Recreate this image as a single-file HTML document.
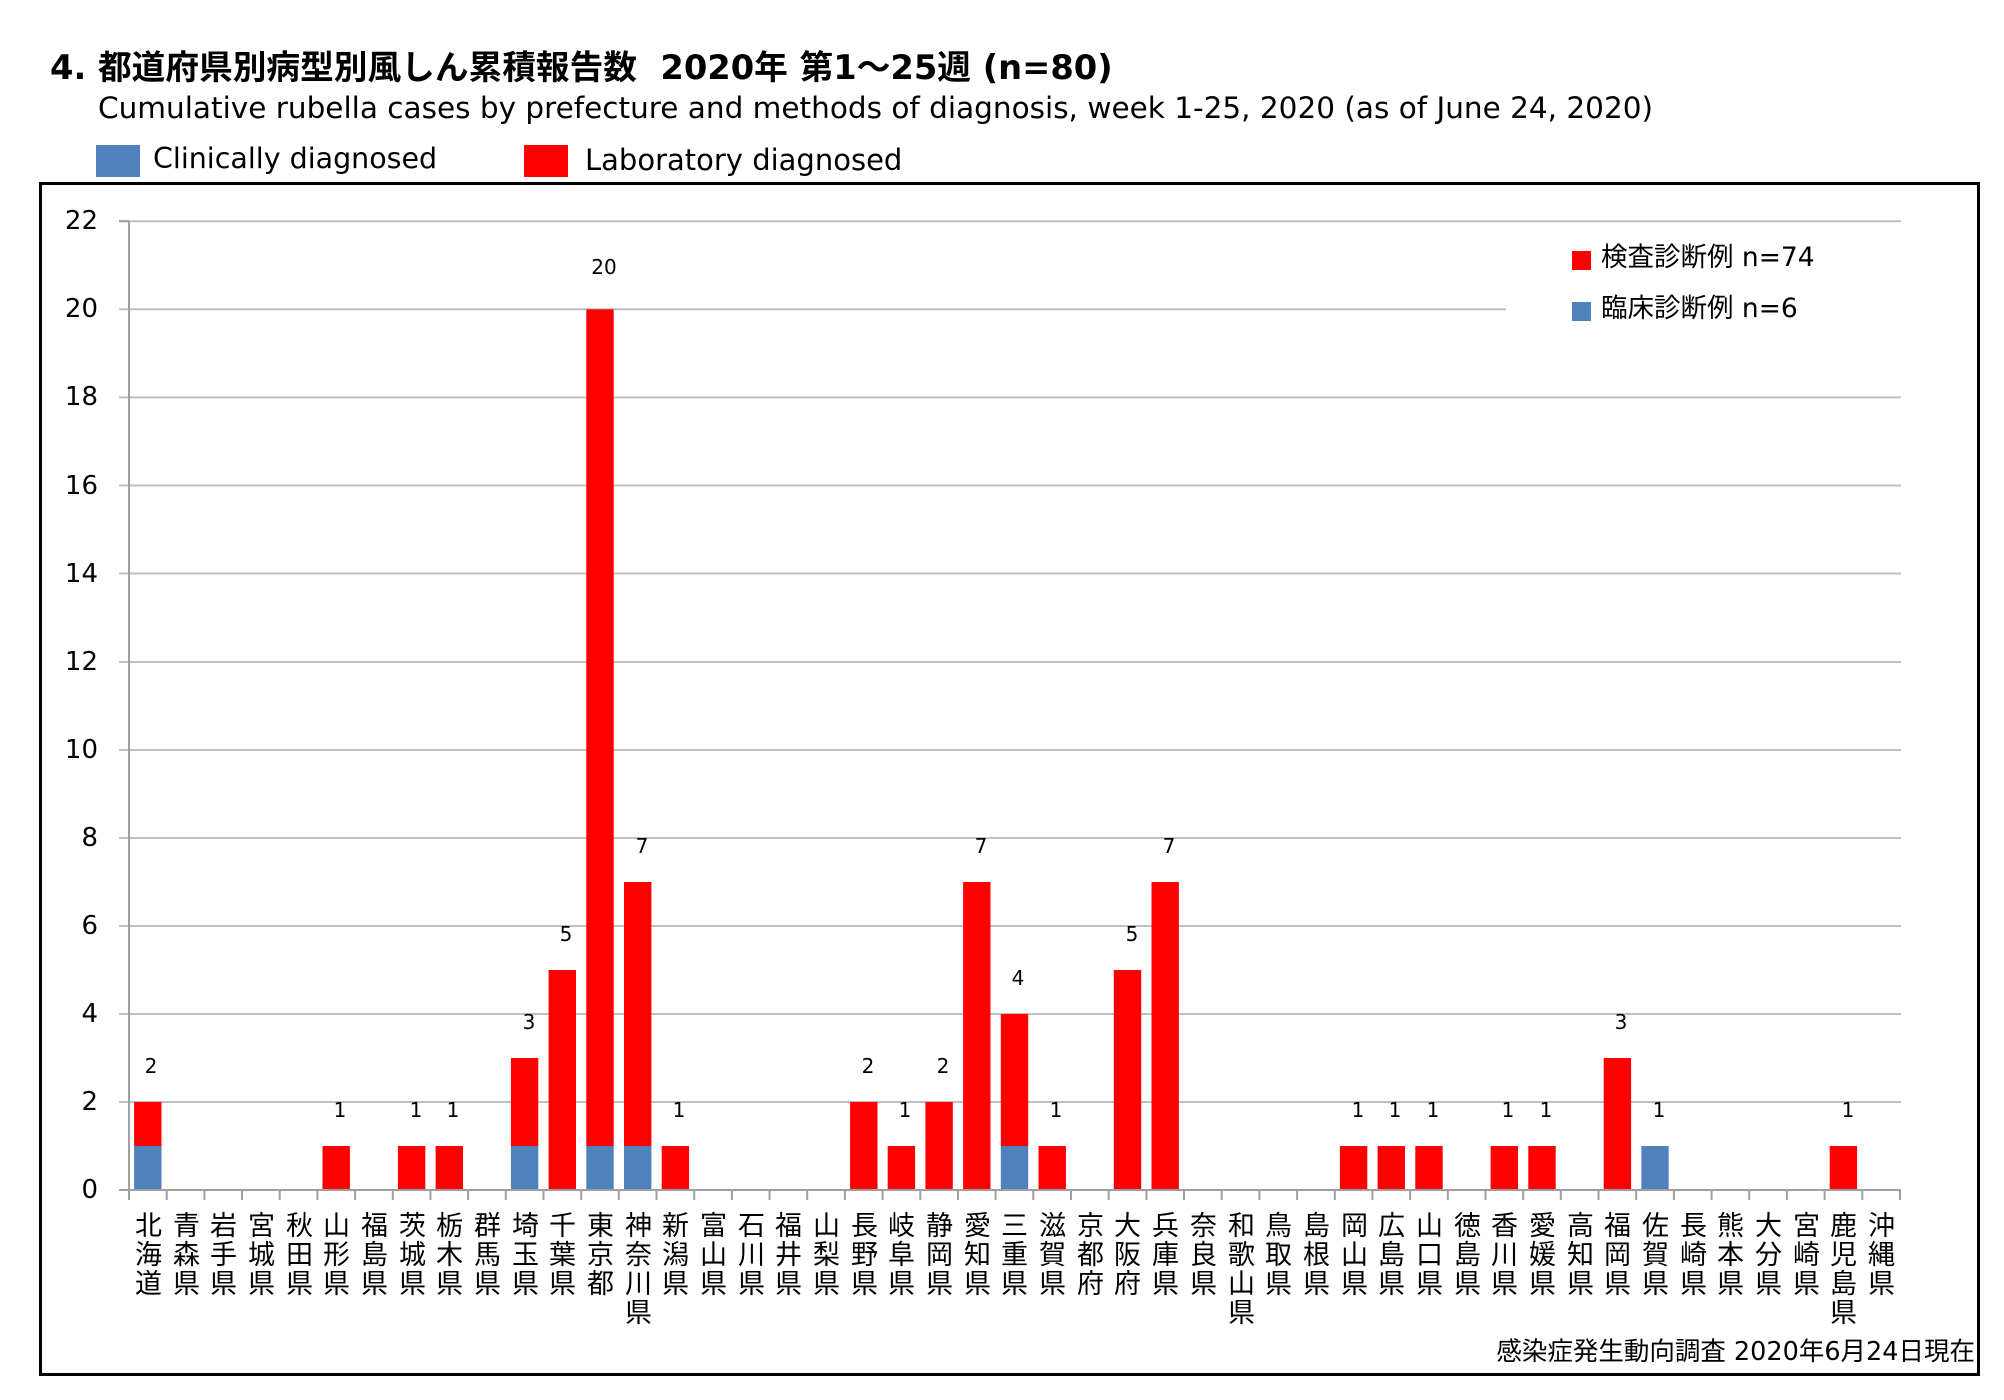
<!DOCTYPE html>
<html><head><meta charset="utf-8"><style>
body{margin:0;width:2004px;height:1400px;background:#fff;overflow:hidden;position:relative;font-family:"DejaVu Sans","Noto Sans CJK JP",sans-serif}
.t{position:absolute;white-space:nowrap;color:#000}
.xl{position:absolute;top:1211px;width:30px;writing-mode:vertical-rl;text-orientation:upright;font-size:27px;line-height:30px;letter-spacing:2px;font-family:"Noto Sans CJK JP","DejaVu Sans",sans-serif}
</style></head><body>
<div class="t" style="left:50px;top:40px;font-size:33.7px;font-weight:bold">4. 都道府県別病型別風しん累積報告数&nbsp; 2020年 第1～25週 (n=80)</div>
<div class="t" style="left:98px;top:91px;font-size:29.5px">Cumulative rubella cases by prefecture and methods of diagnosis, week 1-25, 2020 (as of June 24, 2020)</div>
<div style="position:absolute;left:96px;top:145px;width:44px;height:32px;background:#4f81bd"></div>
<div class="t" style="left:153px;top:142px;font-size:28.5px">Clinically diagnosed</div>
<div style="position:absolute;left:524px;top:145px;width:44px;height:32px;background:#ff0000"></div>
<div class="t" style="left:585px;top:143px;font-size:29px">Laboratory diagnosed</div>
<div style="position:absolute;left:39px;top:182px;width:1935px;height:1188px;border:3px solid #000"></div>
<svg style="position:absolute;left:0;top:0" width="2004" height="1400">
<g stroke="#c0c0c0" stroke-width="2">
<line x1="119" x2="1901" y1="1102" y2="1102"/><line x1="119" x2="1901" y1="1014" y2="1014"/>
<line x1="119" x2="1901" y1="926" y2="926"/><line x1="119" x2="1901" y1="838" y2="838"/>
<line x1="119" x2="1901" y1="750" y2="750"/><line x1="119" x2="1901" y1="662" y2="662"/>
<line x1="119" x2="1901" y1="573.5" y2="573.5"/><line x1="119" x2="1901" y1="485.5" y2="485.5"/>
<line x1="119" x2="1901" y1="397.4" y2="397.4"/><line x1="119" x2="1506" y1="309.3" y2="309.3"/>
<line x1="119" x2="1901" y1="221.2" y2="221.2"/>
</g>
<g fill="#ff0000">
<rect x="134.1" y="1102" width="27.4" height="44"/>
<rect x="322.5" y="1146" width="27.4" height="44"/>
<rect x="397.9" y="1146" width="27.4" height="44"/>
<rect x="435.6" y="1146" width="27.4" height="44"/>
<rect x="510.9" y="1058" width="27.4" height="88"/>
<rect x="548.6" y="970" width="27.4" height="220"/>
<rect x="586.3" y="309.3" width="27.4" height="836.7"/>
<rect x="624" y="882" width="27.4" height="264"/>
<rect x="661.7" y="1146" width="27.4" height="44"/>
<rect x="850.1" y="1102" width="27.4" height="88"/>
<rect x="887.7" y="1146" width="27.4" height="44"/>
<rect x="925.4" y="1102" width="27.4" height="88"/>
<rect x="963.1" y="882" width="27.4" height="308"/>
<rect x="1000.8" y="1014" width="27.4" height="132"/>
<rect x="1038.5" y="1146" width="27.4" height="44"/>
<rect x="1113.8" y="970" width="27.4" height="220"/>
<rect x="1151.5" y="882" width="27.4" height="308"/>
<rect x="1339.9" y="1146" width="27.4" height="44"/>
<rect x="1377.6" y="1146" width="27.4" height="44"/>
<rect x="1415.3" y="1146" width="27.4" height="44"/>
<rect x="1490.6" y="1146" width="27.4" height="44"/>
<rect x="1528.3" y="1146" width="27.4" height="44"/>
<rect x="1603.7" y="1058" width="27.4" height="132"/>
<rect x="1829.7" y="1146" width="27.4" height="44"/>
</g>
<g fill="#4f81bd">
<rect x="134.1" y="1146" width="27.4" height="44"/>
<rect x="510.9" y="1146" width="27.4" height="44"/>
<rect x="586.3" y="1146" width="27.4" height="44"/>
<rect x="624" y="1146" width="27.4" height="44"/>
<rect x="1000.8" y="1146" width="27.4" height="44"/>
<rect x="1641.3" y="1146" width="27.4" height="44"/>
</g>
<g stroke="#a0a0a0" stroke-width="2">
<line x1="129" x2="129" y1="221" y2="1200"/>
<line x1="119" x2="1901" y1="1190" y2="1190"/>
<line x1="119" x2="129" y1="221.2" y2="221.2"/>
<path d="M166.7 1190v10M204.4 1190v10M242 1190v10M279.7 1190v10M317.4 1190v10M355.1 1190v10M392.8 1190v10M430.4 1190v10M468.1 1190v10M505.8 1190v10M543.5 1190v10M581.2 1190v10M618.8 1190v10M656.5 1190v10M694.2 1190v10M731.9 1190v10M769.6 1190v10M807.2 1190v10M844.9 1190v10M882.6 1190v10M920.3 1190v10M958 1190v10M995.6 1190v10M1033.3 1190v10M1071 1190v10M1108.7 1190v10M1146.4 1190v10M1184 1190v10M1221.7 1190v10M1259.4 1190v10M1297.1 1190v10M1334.8 1190v10M1372.4 1190v10M1410.1 1190v10M1447.8 1190v10M1485.5 1190v10M1523.2 1190v10M1560.8 1190v10M1598.5 1190v10M1636.2 1190v10M1673.9 1190v10M1711.6 1190v10M1749.2 1190v10M1786.9 1190v10M1824.6 1190v10M1862.3 1190v10M1900 1190v10"/>
</g>
<g font-size="26" text-anchor="end" font-family="DejaVu Sans, sans-serif">
<text x="98" y="1198">0</text><text x="98" y="1110">2</text><text x="98" y="1022">4</text>
<text x="98" y="934">6</text><text x="98" y="846">8</text><text x="98" y="758">10</text>
<text x="98" y="670">12</text><text x="98" y="582">14</text><text x="98" y="494">16</text>
<text x="98" y="405">18</text><text x="98" y="317">20</text><text x="98" y="229">22</text>
</g>
<g font-size="20" text-anchor="middle" font-family="DejaVu Sans, sans-serif">
<text x="151" y="1073">2</text><text x="340" y="1117">1</text><text x="416" y="1117">1</text>
<text x="453" y="1117">1</text><text x="529" y="1029">3</text><text x="566" y="941">5</text>
<text x="604" y="274">20</text><text x="642" y="853">7</text><text x="679" y="1117">1</text>
<text x="868" y="1073">2</text><text x="905" y="1117">1</text><text x="943" y="1073">2</text>
<text x="981" y="853">7</text><text x="1018" y="985">4</text><text x="1056" y="1117">1</text>
<text x="1132" y="941">5</text><text x="1169" y="853">7</text><text x="1358" y="1117">1</text>
<text x="1395" y="1117">1</text><text x="1433" y="1117">1</text><text x="1508" y="1117">1</text>
<text x="1546" y="1117">1</text><text x="1621" y="1029">3</text><text x="1659" y="1117">1</text>
<text x="1848" y="1117">1</text>
</g>
<rect x="1572" y="251" width="19" height="19" fill="#ff0000"/>
<rect x="1572" y="302" width="19" height="19" fill="#4f81bd"/>
<g font-size="26.5" font-family="DejaVu Sans, Noto Sans CJK JP, sans-serif">
<text x="1601" y="266">検査診断例 n=74</text>
<text x="1601" y="317">臨床診断例 n=6</text>
</g>
<text x="1975" y="1360" font-size="25.5" text-anchor="end" font-family="DejaVu Sans, Noto Sans CJK JP, sans-serif">感染症発生動向調査 2020年6月24日現在</text>
</svg>
<div class="xl" style="left:133px">北海道</div><div class="xl" style="left:171px">青森県</div>
<div class="xl" style="left:208px">岩手県</div><div class="xl" style="left:246px">宮城県</div>
<div class="xl" style="left:284px">秋田県</div><div class="xl" style="left:321px">山形県</div>
<div class="xl" style="left:359px">福島県</div><div class="xl" style="left:397px">茨城県</div>
<div class="xl" style="left:434px">栃木県</div><div class="xl" style="left:472px">群馬県</div>
<div class="xl" style="left:510px">埼玉県</div><div class="xl" style="left:547px">千葉県</div>
<div class="xl" style="left:585px">東京都</div><div class="xl" style="left:623px">神奈川県</div>
<div class="xl" style="left:660px">新潟県</div><div class="xl" style="left:698px">富山県</div>
<div class="xl" style="left:736px">石川県</div><div class="xl" style="left:773px">福井県</div>
<div class="xl" style="left:811px">山梨県</div><div class="xl" style="left:849px">長野県</div>
<div class="xl" style="left:886px">岐阜県</div><div class="xl" style="left:924px">静岡県</div>
<div class="xl" style="left:962px">愛知県</div><div class="xl" style="left:999px">三重県</div>
<div class="xl" style="left:1037px">滋賀県</div><div class="xl" style="left:1075px">京都府</div>
<div class="xl" style="left:1112px">大阪府</div><div class="xl" style="left:1150px">兵庫県</div>
<div class="xl" style="left:1188px">奈良県</div><div class="xl" style="left:1226px">和歌山県</div>
<div class="xl" style="left:1263px">鳥取県</div><div class="xl" style="left:1301px">島根県</div>
<div class="xl" style="left:1339px">岡山県</div><div class="xl" style="left:1376px">広島県</div>
<div class="xl" style="left:1414px">山口県</div><div class="xl" style="left:1452px">徳島県</div>
<div class="xl" style="left:1489px">香川県</div><div class="xl" style="left:1527px">愛媛県</div>
<div class="xl" style="left:1565px">高知県</div><div class="xl" style="left:1602px">福岡県</div>
<div class="xl" style="left:1640px">佐賀県</div><div class="xl" style="left:1678px">長崎県</div>
<div class="xl" style="left:1715px">熊本県</div><div class="xl" style="left:1753px">大分県</div>
<div class="xl" style="left:1791px">宮崎県</div><div class="xl" style="left:1828px">鹿児島県</div>
<div class="xl" style="left:1866px">沖縄県</div>
</body></html>
